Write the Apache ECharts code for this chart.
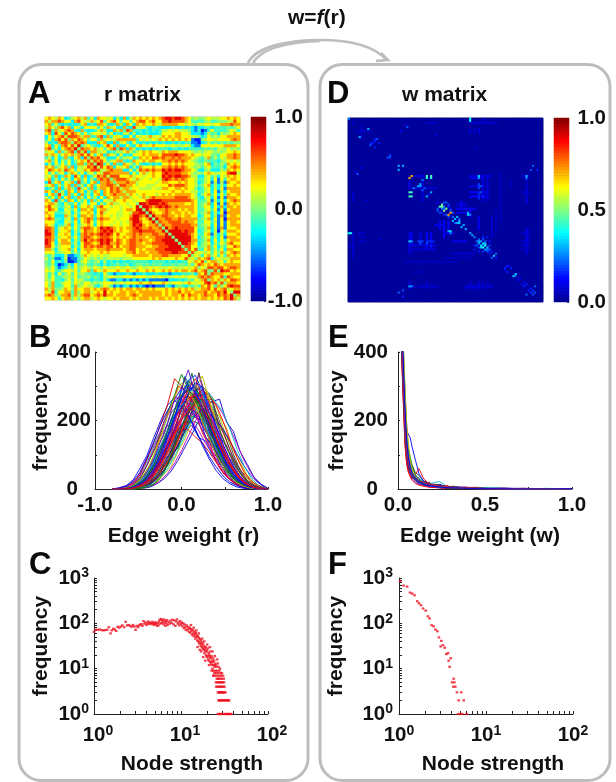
<!DOCTYPE html>
<html><head><meta charset="utf-8">
<style>html,body{margin:0;padding:0;background:#fff}#c{width:616px;height:782px}</style>
<script src="https://cdn.jsdelivr.net/npm/echarts@6/dist/echarts.min.js"></script>
</head><body><div id="c"></div>
<script>
const FONT='"Liberation Sans",Arial,sans-serif';
const jet=['#00008f','#0000ff','#0080ff','#00ffff','#80ff80','#ffff00','#ff8000','#ff0000','#800000'];
// r matrix, lower triangle; each digit is a colour level
const rLevels=[-0.7,-0.5,-0.27,-0.12,0,0.12,0.25,0.42,0.6,0.8];
const rRows=["6","75","673","5764","78375","672863","2636785","36278684","523278874","6726378685",
"7835267879 4","5662735783 85","7576367675 786","3526237326 7284","6736253624 67685","2526363623 773784","7673567372 5568795","6876758763 65768885",
"6363562576 362563658","5637237628 6272368785","6725263526 7362527878 4","2836726572 8352672778 74","5672536727 3526736778 875","2352725752 8463725776 8785",
"7627352762 7625376276 87875","2673852736 2735267276 787775","5362726723 7526352627 6775775","7628352762 5362735265 57667665",
"6775326336 2563662536 755665664","7865335627 3667637866 56656656 94","6876226536 2776726775 66656776 994","7663335625 3667626856 66556658 8994",
"6762227536 2776736766 56556679 98794","7873325627 3678727877 66566689 976794","6663226536 2678636766 65656579 9866794","7652335726 3567626766 56656679 89767784",
"8872567636 3788767989 87676778 987787784","9872566725 3687767898 97676678 8988887794","9972667625 2787878989 86866778 78777887794","8873566736 3788767888 76767678 777677888994",
"9872677625 3797878989 86876788 7877678899994","9862577735 2688767989 77876788 77677888899994","8863566625 3687878878 86867788 777667788899994","7752566736 2677767778 77776788 6767778889999984",
"6663456635 3667666767 66666778 67767778888998884","4352225112 3576565655 6666566777 7767778877 776684","5341125011 3465454545 5554555666 6667676666 7668564","4362324001 3564345252 3232323333 3323333232 32336576",
"4352012426 3453343242 3343342344 3434343334 344353687","5463123536 4565465465 5565565456 5565655565 5556567465","6563356656 3667376576 6676676676 6767667676 76776786784","5352634636 4543323263 2122232122 3222322212 223334276848",
"5363345546 3445343255 6555666566 6556565555 6565665787876","5463324636 5533233252 1122121212 1211111022 23234365784767","6473356646 5466454566 6556566667 6676667656 665676566897858","6473346637 4565532465 3121231212 1010111321 3432435376863746",
"7574457647 6677676787 6767677677 6767666767 67676756778686785","6583667737 4677567696 7667767767 7777776767 786776777867787964","7874577847 5788678797 7677767876 7777776767 7686877678776878794","6676367746 4677567656 6767776767 7767677676 7676767677 6767687975"];
// w matrix: background, bright cells [row,col,value] and faint bands [row,colFrom,colTo,value]; mirrored across the diagonal
const wSize=90, wBackground=0.015;
const wSpots=[[28,29,.7],[46,47,.72],[28,36,.45],[28,38,.45],[29,36,.42],[29,38,.42],[28,60,.33],[29,60,.28],[28,82,.3],[29,82,.25],[1,56,.38],[0,56,.38],[0,0,.25],[5,9,.3],[23,23,.3],[23,25,.3],[33,33,.28],[32,33,.3],[36,38,.3],
[43,43,.5],[42,43,.45],[44,45,.5],[43,44,.25],[44,44,.2],[41,44,.2],[41,45,.2],[42,46,.2],[43,46,.15],[45,47,.2],[46,48,.2],[44,47,.15],[47,55,.33],[46,55,.3],[47,56,.25],[49,49,.3],[48,50,.3],[51,51,.32],[50,51,.3],[49,51,.22],[48,48,.22],[50,50,.08],
[52,53,.3],[54,54,.3],[56,56,.3],[57,57,.3],[58,58,.25],[59,60,.22],[60,60,.3],[60,61,.28],[61,62,.35],[62,63,.4],[61,63,.32],[62,62,.2],[63,64,.3],[64,64,.22],[60,63,.2],[59,62,.2],[62,65,.18],[64,65,.2],[65,66,.15],[58,62,.15],[58,64,.15],[60,65,.15],
[67,67,.33],[66,68,.22],[68,68,.15],[72,73,.15],[73,75,.15],[72,74,.1],[76,77,.33],[77,77,.2],[78,79,.12],[80,81,.12],[81,82,.15],[83,84,.15],[84,85,.18],[85,86,.2],[82,86,.22],[23,85,.22],[25,87,.15],[25,84,.2],[4,27,.2],[18,19,.2],[19,19,.18],[10,13,.2],[11,12,.15],[12,14,.15],[10,12,.15],[2,2,.1],[3,26,.1],[6,24,.12],[8,40,.1],[14,59,.1],[30,34,.25],[34,35,.2],[37,37,.12],[41,41,.12],[61,33,.2],[61,36,.2],[62,38,.15]];
const wBands=[[28,31,34,.1],[28,56,66,.08],[29,56,62,.1],[33,56,62,.09],[34,28,40,.08],[36,56,63,.12],[38,56,63,.12],[60,28,29,.25],[60,32,34,.18],[60,36,39,.16],[62,28,40,.09],[64,28,40,.08],[82,28,30,.12],[82,32,41,.08],[82,54,66,.09],[2,36,40,.07],[2,56,68,.07],[6,4,10,.06],[56,5,7,.07],[58,5,7,.06],[60,5,7,.07],[62,0,1,.06],[70,26,50,.05],[75,30,34,.05],[83,54,60,.05],[56,80,83,.07],[60,80,83,.08],[62,80,83,.07],[64,80,83,.06],[36,80,83,.07],[28,80,83,.08],[42,50,54,.1],[44,50,58,.12],[46,50,54,.1],[52,40,44,.1],[56,44,48,.1],[60,48,54,.1],[66,48,58,.07],[68,44,56,.05]];
// B: edge weight distributions of r
const bWeights=[-.8,-.72,-.64,-.56,-.48,-.4,-.32,-.24,-.16,-.08,0,.08,.16,.24,.32,.4,.48,.56,.64,.72,.8,.88,.96,1];
const bCurves=[
[0,4,10,26,60,98,150,200,245,268,262,218,175,128,88,54,30,15,6,2,0,0,0,0],
[0,2,6,18,42,85,135,190,248,322,300,270,225,165,125,82,48,28,12,5,2,0,0,0],
[0,0,4,12,30,68,110,165,225,275,335,290,262,205,160,108,70,42,20,10,3,1,0,0],
[0,0,2,10,24,50,88,140,195,262,295,348,272,230,172,130,82,50,26,12,5,1,0,0],
[0,0,0,0,2,6,12,25,46,76,112,155,198,238,255,250,218,178,132,85,48,20,6,0],
[0,0,0,1,4,10,22,42,72,110,150,188,215,232,222,200,175,140,102,68,40,20,6,0],
[0,0,0,1,3,8,16,34,60,95,135,180,225,265,280,252,225,175,118,70,34,12,4,0],
[0,0,0,2,5,12,28,48,80,122,168,218,262,290,272,245,198,142,92,52,25,10,3,0],
[0,0,0,1,4,12,26,50,85,130,180,232,285,300,278,225,170,115,70,36,16,6,2,0],
[0,0,0,2,6,16,36,65,105,155,210,262,295,330,262,200,150,98,58,30,13,5,1,0],
[0,0,2,6,18,40,72,120,172,232,290,305,285,242,190,138,95,58,30,14,6,2,0,0],
[0,0,1,5,15,34,62,105,158,215,265,315,298,258,205,150,110,66,36,18,7,2,0,0],
[0,0,1,4,12,26,55,92,140,195,250,292,322,270,220,170,118,74,42,20,9,3,1,0],
[0,0,0,3,8,22,45,78,122,175,232,280,310,298,235,185,130,85,48,24,10,4,1,0],
[0,0,1,4,10,24,50,88,130,165,178,172,152,135,108,78,50,28,14,6,2,0,0,0],
[0,0,0,0,2,6,14,34,72,125,180,228,262,240,185,132,82,45,20,8,3,1,0,0],
[0,0,1,4,10,25,52,90,132,175,205,225,212,185,150,112,78,48,26,12,5,1,0,0],
[0,1,5,14,36,70,118,172,220,258,272,250,218,172,128,88,54,30,15,6,2,0,0,0],
[0,2,8,22,48,90,138,188,230,258,240,212,172,135,95,65,38,20,10,4,1,0,0,0],
[0,0,2,8,20,44,80,125,172,215,245,258,240,205,160,118,80,48,25,12,4,1,0,0],
[0,0,1,3,9,20,42,74,112,155,200,232,245,228,192,150,108,70,40,20,8,3,0,0],
[0,0,0,2,6,15,32,58,92,135,180,222,252,262,238,195,148,100,60,32,14,5,1,0],
[0,1,3,10,26,55,98,150,215,268,310,285,250,195,148,100,62,35,18,8,2,0,0,0],
[0,0,1,4,11,24,50,90,148,205,268,318,332,285,225,165,110,66,34,16,6,2,0,0],
[0,0,2,7,18,38,70,118,170,228,275,288,268,225,178,125,84,48,25,11,4,1,0,0],
[0,0,1,3,8,18,38,68,108,158,212,258,278,262,222,172,122,78,44,22,9,3,1,0],
[0,0,1,5,14,30,58,100,155,212,265,298,282,238,188,138,94,56,30,14,5,1,0,0],
[0,0,1,3,10,24,48,85,130,180,232,265,272,240,198,150,106,68,38,18,7,2,0,0]];
const bWeights2=[-.76,-.68,-.6,-.52,-.44,-.36,-.28,-.2,-.12,-.04,.04,.12,.2,.28,.36,.44,.52,.6,.68,.76,.84,.92,1];
const bCurves2=[
[0,3,10,28,70,112,140,172,195,222,215,198,170,132,102,60,36,18,7,2,0,0,0],
[0,0,0,1,2,6,16,30,52,84,122,160,200,240,256,262,196,168,108,72,34,14,2],
[0,3,8,24,58,100,152,182,250,262,330,285,240,170,125,78,50,22,12,4,1,0,0],
[0,2,9,20,48,92,128,198,232,300,288,272,215,178,108,84,38,24,9,5,1,0,0],
[0,1,6,16,40,72,122,160,222,248,326,258,250,168,132,74,52,20,11,3,1,0,0],
[0,1,4,14,28,66,98,152,188,268,280,312,238,196,140,100,58,36,16,7,2,0,0],
[0,1,3,10,30,54,104,134,205,226,302,268,262,180,152,92,70,30,18,6,2,0,0],
[0,0,4,9,22,50,82,142,168,246,262,338,258,220,148,116,64,42,16,8,2,0,0],
[0,0,2,10,18,46,74,118,182,208,285,280,292,202,168,110,80,38,22,7,3,0,0],
[0,0,2,7,20,36,78,104,160,228,248,312,268,238,160,128,76,52,20,12,3,1,0],
[0,0,1,8,14,38,62,112,142,202,272,268,300,228,188,120,96,48,30,10,4,1,0],
[0,0,1,5,16,28,66,92,150,178,250,298,262,258,176,148,88,62,26,15,4,1,0],
[0,0,1,4,10,30,50,98,124,192,226,272,296,236,208,136,110,58,38,14,6,1,0],
[0,0,0,5,12,22,54,78,132,158,238,250,338,250,192,164,100,76,34,20,6,2,0],
[0,0,0,3,8,24,40,84,108,172,202,268,272,276,214,150,128,72,48,18,9,2,0],
[0,0,0,3,9,16,44,64,116,140,214,232,300,256,240,172,118,92,42,26,8,3,0],
[0,0,0,2,6,18,32,70,92,152,184,252,262,280,222,190,140,88,58,24,12,3,0],
[0,0,0,2,7,12,36,52,100,122,194,214,282,262,262,178,158,102,54,34,11,4,1],
[0,0,0,1,4,14,26,56,80,134,162,232,240,290,226,212,150,116,70,30,16,5,1],
[0,0,1,6,14,36,58,104,138,166,172,186,150,140,96,80,44,30,11,6,1,0,0],
[0,0,1,4,16,30,66,92,122,170,196,200,190,152,128,86,62,30,18,5,2,0,0],
[0,0,1,3,10,28,48,88,116,150,204,216,226,168,150,98,70,42,20,8,2,0,0],
[0,0,0,3,11,20,50,74,110,158,178,228,202,202,132,118,72,50,22,10,3,0,0],
[0,0,0,2,7,20,36,72,92,140,192,196,238,190,172,116,92,50,30,11,5,1,0],
[0,0,0,2,8,14,38,56,98,120,170,212,206,220,160,146,88,66,30,17,5,1,0],
[0,0,1,5,18,34,72,100,150,186,232,232,210,172,136,88,66,32,18,6,2,0,0],
[0,1,3,12,26,56,88,132,172,226,226,262,200,180,122,96,54,34,13,6,1,0,0],
[0,1,5,13,36,62,108,146,200,222,258,232,218,150,122,76,48,24,12,4,1,0,0],
[0,0,2,6,22,38,76,110,154,204,252,246,262,192,164,108,80,42,22,9,3,0,0],
[0,0,1,6,16,32,62,102,136,196,220,266,240,222,158,128,78,54,24,12,3,1,0],
[0,0,0,2,6,14,30,52,88,126,178,226,340,268,250,172,120,84,44,22,8,3,0],
[0,0,0,1,3,10,20,44,66,110,146,198,232,262,268,214,178,112,78,40,18,6,1]];
// E: edge weight distributions of w
const eWeights=[.015,.02,.03,.04,.05,.06,.07,.08,.1,.12,.15,.18,.22,.28,.35,.45,.55,.7,.85,1];
const eCurves=[
[530,480,350,230,170,160,150,125,85,45,20,14,9,4,3,2,1,0,1,0],
[620,560,410,290,185,120,80,55,42,60,28,15,10,6,3,2,1,1,0,0],
[590,530,400,250,150,115,95,72,40,28,18,12,8,4,2,1,1,0,0,0],
[520,470,300,170,90,60,45,32,20,14,9,6,4,2,1,1,0,0,0,0],
[560,500,340,200,120,72,50,38,24,16,11,7,5,3,2,1,1,0,0,0],
[610,540,380,240,135,90,62,45,28,20,12,9,5,3,2,1,1,1,0,0],
[640,590,420,280,160,100,72,50,32,22,14,10,6,4,2,1,1,0,0,0],
[480,420,260,130,72,48,35,26,16,11,8,5,4,2,1,1,0,1,0,0],
[470,400,280,150,95,65,48,36,25,18,12,9,14,5,3,2,1,1,0,0],
[650,600,440,300,190,130,88,60,35,24,16,10,7,5,2,2,1,1,1,0],
[500,450,320,180,105,75,55,40,28,18,13,9,6,4,2,1,1,0,0,0],
[570,510,370,220,128,85,60,42,30,20,14,11,8,3,2,1,1,1,0,0],
[540,490,330,190,110,78,58,44,32,24,18,13,9,6,3,2,1,1,0,0],
[600,545,385,235,142,95,66,48,34,22,15,10,7,4,3,1,1,0,0,1]];
const eWeights2=[.02,.03,.04,.05,.06,.08,.1,.12,.14,.16,.18,.2,.24,.28,.32,.38,.45,.5,.6,.72,.85,1];
const eCurves2=[
[430,300,180,100,70,45,32,26,20,14,18,10,12,6,7,4,5,2,2,1,1,0],
[520,340,210,120,60,52,28,34,18,22,12,15,8,9,4,6,3,3,1,2,0,0],
[460,280,150,85,55,38,26,18,22,12,16,8,14,5,6,2,4,2,3,1,1,0],
[600,390,250,140,85,60,42,30,26,20,14,18,22,8,5,5,2,4,2,0,2,0],
[390,260,130,75,50,30,36,20,14,24,10,12,6,10,3,5,3,1,2,1,0,0],
[550,360,230,130,80,70,48,40,28,16,20,10,10,7,8,3,3,2,1,2,1,1]];
const lineColors=['#0000ff','#e00000','#008000','#5a00c8','#c000c0','#0000d0','#00bfbf','#ff0000','#404040','#bfbf00','#0030ff','#006030','#e01040'];
// C: node strength distribution of r [strength,frequency]
const cPoints=[[1,65],[1.05,72],[1.1,72],[1.16,73],[1.22,71],[1.28,70],[1.34,71],[1.42,72],[1.48,82],[1.55,60],[1.6,70],[1.67,76],[1.73,73],[1.8,68],[1.87,84],[1.95,80],[2.03,85],[2.12,90],[2.22,82],[2.31,108],[2.4,90],[2.5,92],[2.6,88],[2.7,84],[2.8,92],[2.9,85],[3,72],[3.1,88],[3.2,82],[3.3,90],[3.4,94],[3.5,96],[3.6,88],[3.7,112],[3.8,98],[3.9,105],[4,92],[4.1,100],[4.2,110],[4.3,96],[4.4,104],[4.5,102],[4.6,96],[4.7,108],[4.8,100],[4.9,92],[5,100],[5.1,106],[5.2,96],[5.3,88],[5.4,102],[5.5,90],[5.6,110],[5.7,120],[5.8,98],[5.9,125],[6,102],[6.1,118],[6.2,110],[6.3,95],[6.4,122],[6.5,105],[6.6,88],[6.7,112],[6.8,100],[6.9,118],[7,92],[7.2,108],[7.4,98],[7.6,115],[7.8,102],[8,120],[8.2,95],[8.4,116],[8.6,88],[8.8,110],[9,122],[9.2,98],[9.4,105],[9.6,90],[9.8,112],[10,96],[10.2,104],[10.4,86],[10.6,100],[10.8,78],[11,94],[11.2,82],[11.4,72],[11.6,90],[11.8,70],[12,84],[12.2,76],[12.4,65],[12.6,80],[12.8,62],[13,75],[13.2,68],[13.4,56],[13.6,72],[13.8,60],[14,52],[14.2,66],[14.4,58],[14.6,46],[14.8,62],[15,50],[15.2,55],[15.4,42],[15.6,52],[15.8,40],[16,48],[16.2,36],[16.4,45],[16.6,38],[16.8,32],[17,42],[17.2,35],[17.4,30],[17.6,38],[17.8,28],[18,34],[18.2,26],[18.4,31],[18.6,22],[18.8,28],[19,24],[19.2,30],[19.4,20],[19.6,26],[19.8,18],[20,24],[20.2,19],[20.4,28],[20.6,16],[20.8,22],[21,15],[21.2,20],[21.4,18],[21.6,14],[21.8,24],[22,17],[22.2,13],[22.4,19],[22.6,12],[22.8,15],[23,10],[23.2,14],[23.4,17],[23.6,9],[23.8,12],[24,15],[24.2,8],[24.4,11],[24.6,13],[24.8,9],[25,12],[25.3,8],[25.6,11],[26,9],[26.4,13],[26.8,8],[27,11],[27.6,9],[28,10],[28.6,8],[29.5,8],
[13,92],[14,80],[15,70],[16,60],[17,24],[17.5,46],[18.5,40],[19,15],[20,34],[21,12],[21.5,30],[22.5,9],[23,24],[24,7],[24.5,19],[25,7],[26,16],[23.5,7],[18,18],[16.5,26],[15.5,30],
[26.4,7],[27.6,7],[29,7],[30.4,7],[25.8,6],[26.6,6],[27.4,6],[28.4,6],[29.6,6],[31,6],[25.2,5],[26.2,5],[27,5],[27.8,5],[28.6,5],[29.4,5],[30.2,5],[31.2,5],[25.4,4],[26.2,4],[27,4],[27.8,4],[28.6,4],[29.6,4],[30.6,4],[31.6,4],[26.6,3],[27.2,3],[27.8,3],[28.4,3],[29,3],[29.6,3],[30.2,3],[30.9,3],[31.6,3],[32.4,3],[27,2],[27.6,2],[28.2,2],[28.8,2],[29.5,2],[30.2,2],[31,2],[31.8,2],[32.6,2],[33.4,2],[34.2,2],[35,2],[35.8,2],[26.7,1],[27.2,1],[27.7,1],[28.3,1],[28.9,1],[29.5,1],[31,1],[32.2,1],[33,1],[33.7,1],[34.3,1],[35,1],[36,1],[37,1],[37.8,1]];
// F: node strength distribution of w [strength,frequency]
const fPoints=[[1.03,860],[1.13,679],[1.24,646],[1.34,476],[1.42,453],[1.51,416],[1.62,307],[1.7,277],[1.79,251],[1.89,212],[2.03,191],[2.15,143],[2.25,128],[2.37,91],[2.5,86],[2.62,73],[2.76,67],[2.88,49],[3.07,41],[3.01,31],[3.2,33],[3.35,29],[3.5,21],[3.66,22],[3.72,15],[3.93,17],[3.82,11],[4.25,6],[4.07,5],[4.33,5],[4.21,4],[4.44,4],[4.64,3],[5.2,3],[4.85,2],[5.54,2],[4.8,1],[5.1,1],[5.35,1],[6,1]];
const logMinorX=[2,3,4,5,6,7,8,9,20,30,40,50,60,70,80,90];
const logMinorY=[2,3,4,5,6,7,8,9,20,30,40,50,60,70,80,90,200,300,400,500,600,700,800,900];

const ink='#111';
const txt={fontFamily:FONT,fontWeight:'bold',fontSize:20.5,color:ink};
const nameTxt={...txt,fontSize:21};
const clean=rRows.map(s=>s.replace(/\s/g,''));
const rN=clean.length, rData=[];
for(let i=0;i<rN;i++)for(let j=0;j<=i;j++){
  const v=rLevels[+(clean[i][j]||'5')];
  rData.push([j,rN-1-i,v]); if(i!==j)rData.push([i,rN-1-j,v]);
}
const wM=Array.from({length:wSize},()=>new Array(wSize).fill(wBackground));
function setW(a,b,v){wM[a][b]=v;wM[b][a]=v;}
wBands.forEach(([r,a,b,v])=>{for(let c=a;c<=b;c++)setW(r,c,v);});
wSpots.forEach(([a,b,v])=>setW(a,b,v));
const wData=[];
for(let i=0;i<wSize;i++)for(let j=0;j<wSize;j++)wData.push([j,wSize-1-i,wM[i][j]]);
const idx=n=>Array.from({length:n},(_,i)=>i);
const barN=64;
const barData=(min,max)=>idx(barN).map(i=>[0,i,min+(i+.5)*(max-min)/barN]);

const grids=[
 {left:45,top:117,width:195,height:183,show:true,borderColor:'#b8b8b8',borderWidth:1,backgroundColor:'#b8d860'},
 {left:251,top:117,width:15,height:184,show:true,borderWidth:0,backgroundColor:'#40a0a0'},
 {left:95,top:352,width:173,height:137},
 {left:94,top:578,width:174,height:136},
 {left:348,top:118,width:195,height:184,show:true,borderColor:'#666a80',borderWidth:1,backgroundColor:'#00008f'},
 {left:554,top:118,width:15,height:184,show:true,borderWidth:0,backgroundColor:'#40a0a0'},
 {left:398,top:352,width:174,height:137},
 {left:399,top:578,width:174,height:136}];
const heatAxes=(g,n,m)=>({x:{type:'category',gridIndex:g,data:idx(m||n),show:false},y:{type:'category',gridIndex:g,data:idx(n),show:false}});
function barScale(g,min,max,interval,keep){
  return {type:'value',gridIndex:g,min,max,interval,position:'right',
    axisLine:{show:false},splitLine:{show:false},
    axisTick:{show:true,inside:true,length:2,lineStyle:{color:'#444',width:1}},
    axisLabel:{...txt,margin:37,align:'right',formatter:v=>keep.includes(+v.toFixed(3))?v.toFixed(1):''}};
}
const line={show:true,onZero:false,lineStyle:{color:'#222',width:1}};
function histAxes(g,xmin,xint,xlabels,name,namePad,yMargin,zeroPad,yGap){
  return {x:{type:'value',gridIndex:g,min:xmin,max:1,interval:xint,axisLine:line,splitLine:{show:false},
     axisTick:{show:true,inside:true,length:2,lineStyle:{color:'#222'}},
     axisLabel:{...txt,margin:6,showMinLabel:true,showMaxLabel:true,formatter:v=>xlabels.includes(+v.toFixed(2))?v.toFixed(1):''},
     name,nameLocation:'middle',nameGap:37,nameTextStyle:{...nameTxt,padding:namePad}},
   y:{type:'value',gridIndex:g,min:0,max:400,interval:100,axisLine:line,splitLine:{show:false},
     axisTick:{show:true,inside:true,length:2,lineStyle:{color:'#222'}},
     axisLabel:{...txt,margin:yMargin,formatter:v=>v===0?'{z|0}':(v%200===0?String(v):''),rich:{z:{...txt,padding:[0,zeroPad,0,0]}}},
     name:'frequency',nameLocation:'middle',nameRotate:90,nameGap:yGap,nameTextStyle:{...nameTxt}}};
}
const powRich={b:{...txt},s:{fontFamily:FONT,fontWeight:'bold',fontSize:14,color:ink,padding:[0,0,9,0]}};
const powFmt=v=>'{b|10}{s|'+Math.round(Math.log10(v))+'}';
function logAxes(g,xShift,labelPad,yMargin,yGap){
  const tickX={show:true,inside:true,length:3,lineStyle:{color:'#222'},customValues:[1,10,100].concat(logMinorX)};
  const tickY={show:true,inside:true,length:3,lineStyle:{color:'#222'},customValues:[1,10,100,1000].concat(logMinorY)};
  return {x:{type:'log',logBase:10,gridIndex:g,min:1,max:100,axisLine:line,splitLine:{show:false},axisTick:tickX,
     axisLabel:{...txt,margin:10,padding:[0,0,0,labelPad],formatter:powFmt,rich:powRich,showMinLabel:true,showMaxLabel:true},
     name:'Node strength',nameLocation:'middle',nameGap:40,nameTextStyle:{...nameTxt,padding:[0,0,0,xShift]}},
   y:{type:'log',logBase:10,gridIndex:g,min:1,max:1000,axisLine:line,splitLine:{show:false},axisTick:tickY,
     axisLabel:{...txt,margin:yMargin,formatter:powFmt,rich:powRich},
     name:'frequency',nameLocation:'middle',nameRotate:90,nameGap:yGap,nameTextStyle:{...nameTxt}}};
}
const ax=[heatAxes(0,rN),heatAxes(1,barN,1),histAxes(2,-1,0.5,[-1,0,1],'Edge weight (r)',[0,0,0,4],4,13,43),logAxes(3,22,8,5,42),
          heatAxes(4,wSize),heatAxes(5,barN,1),histAxes(6,0,0.25,[0,0.5,1],'Edge weight (w)',[0,10,0,0],10,10,50),logAxes(7,14,0,6,52)];
const yAxes=ax.map(a=>a.y).concat([barScale(1,-1,1,0.25,[-1,0,1]),barScale(5,0,1,0.125,[0,0.5,1])]);
const series=[
 {type:'heatmap',xAxisIndex:0,yAxisIndex:0,data:rData,progressive:0,animation:false},
 {type:'heatmap',xAxisIndex:4,yAxisIndex:4,data:wData,progressive:0,animation:false},
 {type:'heatmap',xAxisIndex:1,yAxisIndex:1,data:barData(-1,1),progressive:0,animation:false},
 {type:'heatmap',xAxisIndex:5,yAxisIndex:5,data:barData(0,1),progressive:0,animation:false},
 // empty series keep the colour bar scales alive
 {type:'scatter',xAxisIndex:1,yAxisIndex:8,data:[],silent:true},
 {type:'scatter',xAxisIndex:5,yAxisIndex:9,data:[],silent:true}];
function addLines(curves,xs,xi,yi,off){curves.forEach((c,i)=>series.push({type:'line',xAxisIndex:xi,yAxisIndex:yi,showSymbol:false,silent:true,animation:false,clip:true,
  data:c.map((v,k)=>[xs[k],v]),lineStyle:{width:0.9,color:lineColors[(i+off)%lineColors.length]}}));}
addLines(bCurves2,bWeights2,2,2,4);
addLines(bCurves,bWeights,2,2,0);
addLines(eCurves2,eWeights2,6,6,3);
addLines(eCurves,eWeights,6,6,0);
series.push({type:'scatter',xAxisIndex:3,yAxisIndex:3,data:cPoints,symbol:'rect',symbolSize:[2.6,2.2],clip:false,itemStyle:{color:'#f01020'},animation:false});
series.push({type:'scatter',xAxisIndex:7,yAxisIndex:7,data:fPoints,symbol:'rect',symbolSize:[2.6,2.2],clip:false,itemStyle:{color:'#f01020'},animation:false});

const grey='#bdbdbd';
const letter=(t,x,y)=>({type:'text',left:x,top:y,z:5,style:{text:t,font:'bold 31px '+FONT,fill:'#0a0a0a'}});
const curve=(x1,y1,c1x,c1y,c2x,c2y,x2,y2)=>({type:'bezierCurve',z:1,shape:{x1,y1,cpx1:c1x,cpy1:c1y,cpx2:c2x,cpy2:c2y,x2,y2},style:{stroke:grey,lineWidth:2.6,fill:null}});
const graphic=[
 {type:'rect',z:0,shape:{x:19,y:64.5,width:289,height:716,r:22},style:{fill:null,stroke:grey,lineWidth:3}},
 {type:'rect',z:0,shape:{x:320,y:64.5,width:290,height:716,r:22},style:{fill:null,stroke:grey,lineWidth:3}},
 curve(248,63,256,46,290,40,320,40),curve(253,63,262,47,292,42,320,41),curve(320,40,352,40,374,46,387,60),
 {type:'polyline',z:1,shape:{points:[[376,61],[388,60],[381,53]]},style:{stroke:grey,lineWidth:2.6,fill:null}},
 {type:'text',left:288,top:8,z:5,style:{rich:{a:{font:'bold 21px '+FONT,fill:ink},f:{font:'italic bold 21px '+FONT,fill:ink}},text:'{a|w=}{f|f}{a|(r)}'}},
 letter('A',28,79),letter('B',29,323),letter('C',29,550),letter('D',327,79),letter('E',328,323),letter('F',328,550),
 {type:'text',left:104,top:85,z:5,style:{text:'r matrix',font:'bold 21px '+FONT,fill:ink}},
 {type:'text',left:402,top:85,z:5,style:{text:'w matrix',font:'bold 21px '+FONT,fill:ink}}
];
const chart=echarts.init(document.getElementById('c'),null,{renderer:'canvas'});
chart.setOption({animation:false,backgroundColor:'#fff',grid:grids,xAxis:ax.map(a=>a.x),yAxis:yAxes,
 visualMap:[
  {type:'continuous',show:false,seriesIndex:[0,2],min:-1,max:1,dimension:2,inRange:{color:jet}},
  {type:'continuous',show:false,seriesIndex:[1,3],min:0,max:1,dimension:2,inRange:{color:jet}}],
 series,graphic:{elements:graphic}});
</script></body></html>
